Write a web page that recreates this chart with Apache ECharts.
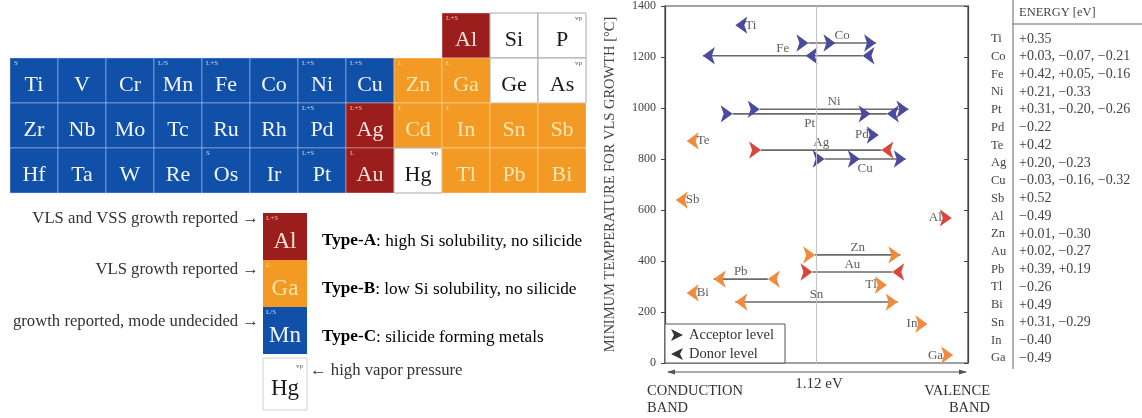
<!DOCTYPE html>
<html><head><meta charset="utf-8">
<script src="https://cdn.jsdelivr.net/npm/echarts@6/dist/echarts.min.js"></script>
<style>html,body{margin:0;padding:0;background:#fff}#c{width:1142px;height:418px}</style>
</head><body><div id="c"></div>
<script>
// ---------- DATA ----------
// periodic table rows (12 columns)
const ptRow0 = ['','','','','','','','','','Al','Si','P'];
const ptRow1 = ['Ti','V','Cr','Mn','Fe','Co','Ni','Cu','Zn','Ga','Ge','As'];
const ptRow2 = ['Zr','Nb','Mo','Tc','Ru','Rh','Pd','Ag','Cd','In','Sn','Sb'];
const ptRow3 = ['Hf','Ta','W','Re','Os','Ir','Pt','Au','Hg','Tl','Pb','Bi'];
const typeAElements = ['Al','Ag','Au'];
const typeBElements = ['Zn','Ga','Cd','In','Sn','Sb','Tl','Pb','Bi'];
const plainElements = ['Si','P','Ge','As','Hg'];
const growthNoteElements = ['Ti','Mn','Fe','Ni','Cu','Zn','Ga','Pd','Ag','Cd','In','Os','Pt','Au','Al'];
const growthNotes        = ['S','L/S','L+S','L+S','L+S','L','L','L+S','L+S','L','L','S','L+S','L','L+S'];
const vpElements = ['P','As','Hg'];

// impurity levels plot (energy in eV measured from conduction band, 0..1.12)
const plotElements = ['Ti','Co','Fe','Ni','Pt','Pd','Te','Ag','Cu','Sb','Al','Zn','Au','Pb','Tl','Bi','Sn','In','Ga'];
const plotTypes    = ['C','C','C','C','C','C','B','A','C','B','A','B','A','B','B','B','B','B','B'];
const plotTemps    = [1325,1255,1205,995,977,894,871,835,800,639,569,424,357,329,306,275,239,153,31];
const plotLevels   = [[0.26],[0.53,0.63,0.78],[0.14,0.52,0.73],[0.35,0.90],[0.25,0.76,0.82],[0.79],[0.08],
                      [0.355,0.80],[0.59,0.72,0.89],[0.04],[1.06],[0.555,0.87],[0.545,0.84],[0.18,0.38],
                      [0.82],[0.08],[0.26,0.86],[0.97],[1.065]];
const plotKinds    = [['D'],['A','A','A'],['D','D','D'],['A','A'],['A','A','D'],['A'],['D'],
                      ['A','D'],['A','A','A'],['D'],['A'],['A','A'],['A','D'],['D','D'],
                      ['A'],['D'],['D','A'],['A'],['A']];
const yTicks = [0,200,400,600,800,1000,1200,1400];

// energy table
const tableElements = ['Ti','Co','Fe','Ni','Pt','Pd','Te','Ag','Cu','Sb','Al','Zn','Au','Pb','Tl','Bi','Sn','In','Ga'];
const tableEnergies = ['+0.35','+0.03, \u22120.07, \u22120.21','+0.42, +0.05, \u22120.16','+0.21, \u22120.33',
  '+0.31, \u22120.20, \u22120.26','\u22120.22','+0.42','+0.20, \u22120.23','\u22120.03, \u22120.16, \u22120.32',
  '+0.52','\u22120.49','+0.01, \u22120.30','+0.02, \u22120.27','+0.39, +0.19','\u22120.26','+0.49',
  '+0.31, \u22120.29','\u22120.40','\u22120.49'];

// ---------- STYLE ----------
const SERIF = '"Liberation Serif", "DejaVu Serif", serif';
const BLUE = '#1150a8', ORANGE = '#f39a24', RED = '#9c1e1c';
const markerColor = {A:'#d8473a', B:'#f08a3c', C:'#4a4a9e'};
const labelSide = ['right','top','top','top','bottom','left','right','top','bottom','right','left','top','top','top','left','right','top','left','left'];

// ---------- BUILD ----------
const ptCells = [];
[ptRow0, ptRow1, ptRow2, ptRow3].forEach((row, r) => row.forEach((s, c) => { if (s) ptCells.push({sym:s, col:c, row:r}); }));

function cellType(s){
  if (typeAElements.includes(s)) return 'A';
  if (typeBElements.includes(s)) return 'B';
  if (plainElements.includes(s)) return 'W';
  return 'C';
}
const cellFill = {A:RED, B:ORANGE, C:BLUE, W:'#ffffff'};
const cellText = {A:'#f7e4dc', B:'#fde6b0', C:'#f2f5fb', W:'#1a1a1a'};
const cellStroke = {A:'rgba(255,255,255,0.35)', B:'rgba(255,255,255,0.35)', C:'rgba(200,215,255,0.45)', W:'#a8a8a8'};

function renderCell(params, api){
  const c = ptCells[params.dataIndex];
  const t = cellType(c.sym);
  const p0 = api.coord([c.col, c.row]);
  const p1 = api.coord([c.col + 1, c.row + 1]);
  const w = p1[0] - p0[0], h = p1[1] - p0[1];
  const children = [
    {type:'rect', shape:{x:p0[0], y:p0[1], width:w, height:h}, style:{fill:cellFill[t], stroke:cellStroke[t], lineWidth:1}},
    {type:'text', style:{x:p0[0] + w/2, y:p0[1] + h/2 + 5, text:c.sym, align:'center', verticalAlign:'middle',
      font:'22px ' + SERIF, fill:cellText[t]}}
  ];
  const ni = growthNoteElements.indexOf(c.sym);
  if (ni >= 0) children.push({type:'text', style:{x:p0[0] + 4, y:p0[1] + 2, text:growthNotes[ni], align:'left', verticalAlign:'top',
      font:'7px ' + SERIF, fill:cellText[t], opacity:0.8}});
  if (vpElements.includes(c.sym)) children.push({type:'text', style:{x:p1[0] - 4, y:p0[1] + 2, text:'vp', align:'right', verticalAlign:'top',
      font:'7px ' + SERIF, fill:'#555'}});
  return {type:'group', children};
}

function renderTableRow(params, api){
  const i = params.dataIndex;
  const p = api.coord([0, i]);
  return {type:'group', children:[
    {type:'text', style:{x:p[0] + 1, y:p[1], text:tableElements[i], align:'left', verticalAlign:'middle', font:'12.5px ' + SERIF, fill:'#444'}},
    {type:'text', style:{x:p[0] + 29, y:p[1], text:tableEnergies[i], align:'left', verticalAlign:'middle', font:'14px ' + SERIF, fill:'#444'}}
  ]};
}

const series = [];
plotElements.forEach((el, i) => {
  const col = markerColor[plotTypes[i]];
  series.push({
    type:'line', xAxisIndex:0, yAxisIndex:0, silent:true, animation:false, z:3,
    symbolSize:[13, 12], showSymbol:true,
    lineStyle:{color:'#6a6a6a', width:1.6},
    itemStyle:{color:col},
    data: plotLevels[i].map((x, j) => ({
      value:[x, plotTemps[i]], symbol:'arrow',
      symbolRotate: plotKinds[i][j] === 'A' ? -90 : 90,
      itemStyle:{color:col}
    })),
    markLine: i === 0 ? {silent:true, symbol:'none', label:{show:false},
      lineStyle:{color:'#c4c4c4', width:1, type:'solid'}, data:[{xAxis:0.56}]} : undefined
  });
});
series.push({
  type:'scatter', xAxisIndex:0, yAxisIndex:0, silent:true, animation:false, symbolSize:0, z:4,
  data: plotElements.map((el, i) => {
    const lv = plotLevels[i];
    const x = lv.length > 1 ? (Math.min(...lv) + Math.max(...lv)) / 2 : lv[0];
    const side = labelSide[i];
    const dist = side === 'top' ? 1 : side === 'bottom' ? 3 : 10;
    return {value:[x, plotTemps[i]], name:el, label:{position:side, distance:dist}};
  }),
  label:{show:true, formatter:'{b}', fontFamily:SERIF, fontSize:13, color:'#333'}
});
series.push({type:'custom', xAxisIndex:1, yAxisIndex:2, silent:true, animation:false,
  data: ptCells.map(c => [c.col + 0.5, c.row + 0.5]), renderItem: renderCell});
series.push({type:'custom', xAxisIndex:2, yAxisIndex:3, silent:true, animation:false,
  data: tableElements.map((e, i) => [0, i]), renderItem: renderTableRow});

// ---------- GRAPHICS (legend/annotations) ----------
const txt = (x, y, text, size, align, extra) => Object.assign({type:'text', x, y,
  style:{text, font:size + 'px ' + SERIF, fill:'#333', align:align || 'left', verticalAlign:'middle'}}, extra || {});
function swatch(x, y, w, h, fill, sym, tcol, note, stroke){
  const g = [
    {type:'rect', shape:{x, y, width:w, height:h}, style:{fill, stroke:stroke || 'none', lineWidth:1}},
    {type:'text', style:{x:x + w/2, y:y + h/2 + 5, text:sym, align:'center', verticalAlign:'middle', font:'23px ' + SERIF, fill:tcol}}
  ];
  if (note) g.push({type:'text', style:{x:x + 3, y:y + 2, text:note, align:'left', verticalAlign:'top', font:'7px ' + SERIF, fill:tcol, opacity:0.8}});
  return g;
}
const LF = 16.7;
const TF = 17.2;
const rich = {
  a:{fontFamily:SERIF, fontSize:TF, color:'#9c2424', fontWeight:'bold'},
  b:{fontFamily:SERIF, fontSize:TF, color:'#f0a05a', fontWeight:'bold'},
  c:{fontFamily:SERIF, fontSize:TF, color:'#2c2c86', fontWeight:'bold'},
  n:{fontFamily:SERIF, fontSize:TF, color:'#333'}
};
const graphic = [].concat(
  swatch(263, 213, 44, 47, RED, 'Al', '#f7e4dc', 'L+S'),
  swatch(263, 260, 44, 47, ORANGE, 'Ga', '#fde6b0', 'L'),
  swatch(263, 307, 44, 47, BLUE, 'Mn', '#f2f5fb', 'L/S'),
  swatch(263, 358, 44, 52, '#ffffff', 'Hg', '#1a1a1a', null, '#d0d0d0'),
  [
    txt(259, 219, 'VLS and VSS growth reported \u2192', LF, 'right'),
    txt(259, 270, 'VLS growth reported \u2192', LF, 'right'),
    txt(259, 322, 'growth reported, mode undecided \u2192', LF, 'right'),
    {type:'text', x:303, y:366, style:{text:'vp', font:'7px ' + SERIF, fill:'#555', align:'right', verticalAlign:'middle'}},
    txt(310, 371, '\u2190 high vapor pressure', LF, 'left'),
    {type:'text', x:322, y:241, style:{text:'{a|Type-A}{n|: high Si solubility, no silicide}', rich, verticalAlign:'middle'}},
    {type:'text', x:322, y:289, style:{text:'{b|Type-B}{n|: low Si solubility, no silicide}', rich, verticalAlign:'middle'}},
    {type:'text', x:322, y:337, style:{text:'{c|Type-C}{n|: silicide forming metals}', rich, verticalAlign:'middle'}},
    // plot legend
    {type:'rect', shape:{x:665, y:324, width:120, height:39}, style:{fill:'#fff', stroke:'#555', lineWidth:1}, z:10},
    {type:'polygon', shape:{points:[[671,329],[683,335],[671,341],[674,335]]}, style:{fill:'#333'}, z:11},
    {type:'polygon', shape:{points:[[683,348],[671,354],[683,360],[680,354]]}, style:{fill:'#333'}, z:11},
    txt(689, 335, 'Acceptor level', 14.5, 'left', {z:11}),
    txt(689, 354, 'Donor level', 14.5, 'left', {z:11}),
    // 1.12 eV arrow
    {type:'line', shape:{x1:668, y1:372, x2:966, y2:372}, style:{stroke:'#555', lineWidth:1}},
    {type:'polygon', shape:{points:[[667,372],[675,369.5],[675,374.5]]}, style:{fill:'#555'}},
    {type:'polygon', shape:{points:[[967,372],[959,369.5],[959,374.5]]}, style:{fill:'#555'}},
    txt(819, 384, '1.12 eV', 15, 'center'),
    txt(647, 391, 'CONDUCTION', 14.5, 'left'),
    txt(647, 408, 'BAND', 14.5, 'left'),
    txt(990, 391, 'VALENCE', 14.5, 'right'),
    txt(990, 408, 'BAND', 14.5, 'right'),
    // energy table frame
    {type:'line', shape:{x1:1013, y1:0, x2:1013, y2:369}, style:{stroke:'#666', lineWidth:1}},
    {type:'line', shape:{x1:1013, y1:24, x2:1142, y2:24}, style:{stroke:'#666', lineWidth:1}},
    txt(1019, 13, 'ENERGY [eV]', 12.5, 'left', {style:{text:'ENERGY [eV]', font:'12.5px ' + SERIF, fill:'#444', verticalAlign:'middle'}})
  ]
);

const chart = echarts.init(document.getElementById('c'), null, {renderer:'canvas'});
chart.setOption({
  animation:false,
  backgroundColor:'#fff',
  grid:[
    {left:665, top:6, width:303, height:357, show:true, borderColor:'#444', borderWidth:1.2, backgroundColor:'transparent'},
    {left:10, top:13, width:576, height:180},
    {left:990, top:30, width:150, height:337}
  ],
  xAxis:[
    {gridIndex:0, type:'value', min:0, max:1.12, axisLine:{show:false}, axisTick:{show:false}, axisLabel:{show:false}, splitLine:{show:false}},
    {gridIndex:1, type:'value', min:0, max:12, show:false},
    {gridIndex:2, type:'value', min:0, max:1, show:false}
  ],
  yAxis:[
    {gridIndex:0, type:'value', min:0, max:1400, interval:200,
      axisLine:{show:true, lineStyle:{color:'#444', width:1.2}},
      axisTick:{show:true, inside:false, length:4, lineStyle:{color:'#444'}},
      axisLabel:{fontFamily:SERIF, fontSize:12, color:'#444', margin:9,
        formatter: v => yTicks.includes(v) ? String(v) : ''},
      splitLine:{show:false},
      name:'MINIMUM TEMPERATURE FOR VLS GROWTH [\u00b0C]', nameLocation:'middle', nameGap:47,
      nameTextStyle:{fontFamily:SERIF, fontSize:14.5, color:'#444'}},
    {gridIndex:0, type:'value', position:'right', min:0, max:1400, interval:200,
      axisLine:{show:true, lineStyle:{color:'#444', width:1.2}},
      axisTick:{show:true, inside:true, length:4, lineStyle:{color:'#444'}},
      axisLabel:{show:false}, splitLine:{show:false}},
    {gridIndex:1, type:'value', min:0, max:4, inverse:true, show:false},
    {gridIndex:2, type:'category', data:tableElements, inverse:true, show:false}
  ],
  series,
  graphic
});
</script>
</body></html>
